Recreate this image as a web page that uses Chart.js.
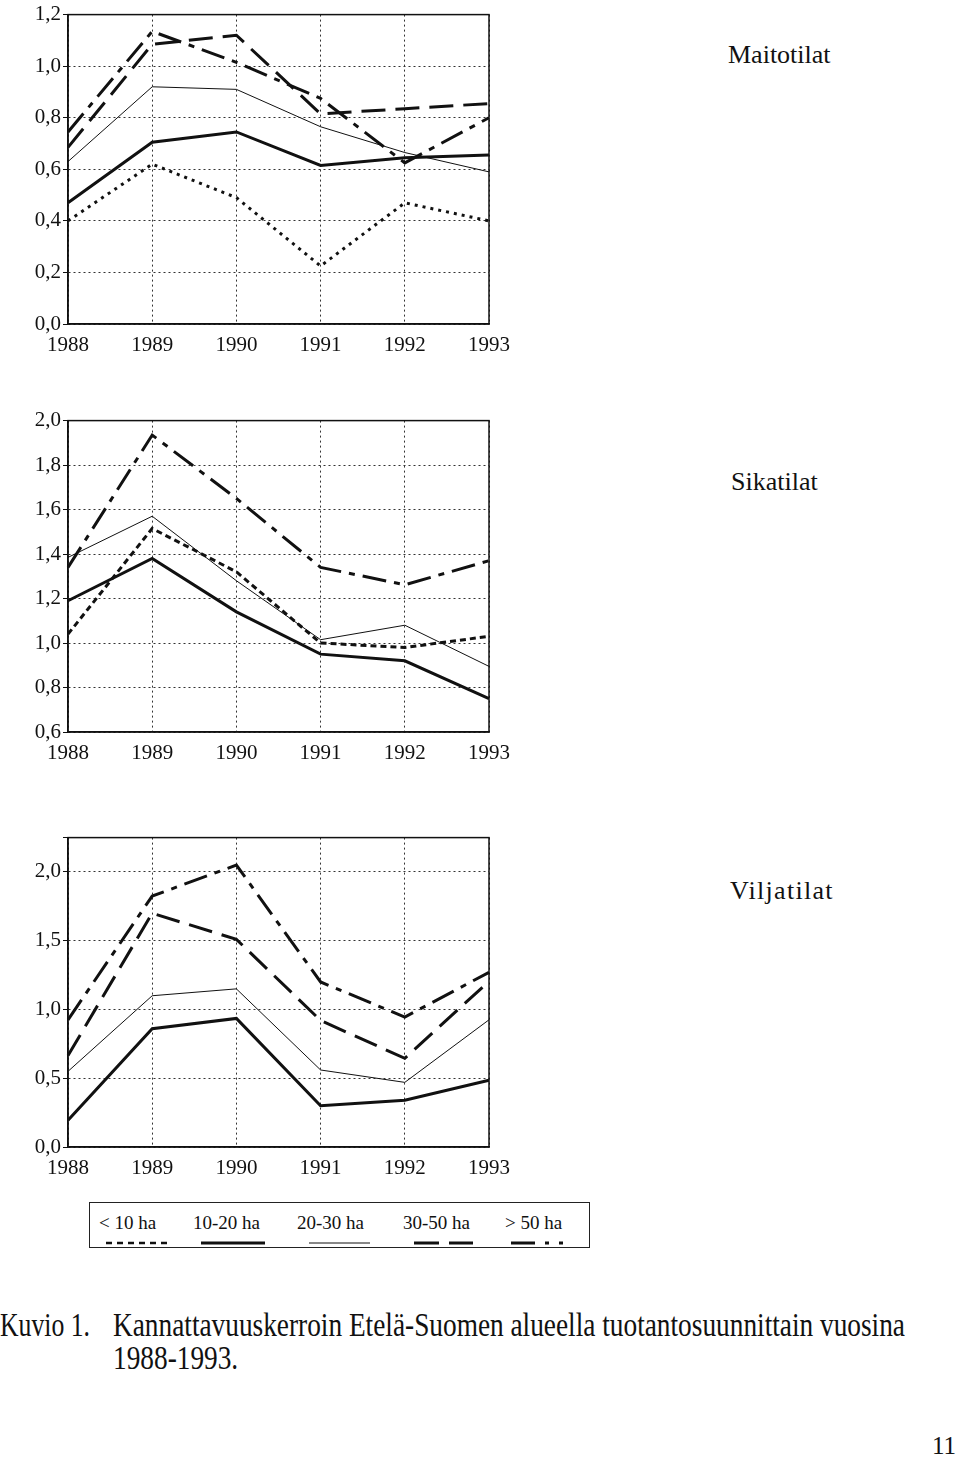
<!DOCTYPE html>
<html>
<head>
<meta charset="utf-8">
<script src="https://cdn.jsdelivr.net/npm/chart.js@4.4.1/dist/chart.umd.min.js"></script>
<style>
  body { margin: 0; background: #fff; width: 960px; height: 1460px; position: relative; overflow: hidden;
         font-family: "Liberation Serif", "Times New Roman", serif; color: #111; }
  canvas { position: absolute; left: 0; }
  .lbl { position: absolute; font-size: 26px; white-space: nowrap; }
  #legendBox { position: absolute; left: 89px; top: 1202px; width: 499px; height: 44px; border: 1.5px solid #222; }
  .legItem { position: absolute; top: 9px; font-size: 19px; white-space: nowrap; }
  .legSample { position: absolute; top: 37px; }
  .cap { position: absolute; font-size: 33px; line-height: 33px; white-space: nowrap; transform-origin: left top; }
</style>
</head>
<body>
<canvas id="maitoChart" width="540" height="370" style="top:0px"></canvas>
<canvas id="sikaChart" width="540" height="372" style="top:406px"></canvas>
<canvas id="viljaChart" width="540" height="370" style="top:823px"></canvas>

<div class="lbl" style="left:728px; top:40px;">Maitotilat</div>
<div class="lbl" style="left:731px; top:467px;">Sikatilat</div>
<div class="lbl" style="left:730px; top:876px; letter-spacing:1.3px;">Viljatilat</div>

<div id="legendBox"></div>

<div class="cap" id="capHead" style="left:0px; top:1309px;">Kuvio 1.</div>
<div class="cap" id="capText" style="left:113px; top:1309px;">Kannattavuuskerroin Etelä-Suomen alueella tuotantosuunnittain vuosina<br>1988-1993.</div>
<div class="lbl" style="left:932px; top:1432px; font-size:25px;">11</div>

<script>
const years = ['1988', '1989', '1990', '1991', '1992', '1993'];
const sizeClasses = ['< 10 ha', '10-20 ha', '20-30 ha', '30-50 ha', '> 50 ha'];

// Maitotilat
const maitoUnder10 = [0.40, 0.62, 0.49, 0.225, 0.47, 0.40];
const maito10to20 = [0.47, 0.705, 0.745, 0.615, 0.645, 0.655];
const maito20to30 = [0.63, 0.92, 0.91, 0.765, 0.665, 0.59];
const maito30to50 = [0.685, 1.085, 1.12, 0.815, 0.835, 0.855];
const maitoOver50 = [0.745, 1.135, 1.015, 0.875, 0.625, 0.80];
const maitoAxis = [0, 1.2, 0.2]; // min, max, step

// Sikatilat
const sikaUnder10 = [1.04, 1.515, 1.32, 1.00, 0.98, 1.03];
const sika10to20 = [1.19, 1.38, 1.14, 0.95, 0.92, 0.75];
const sika20to30 = [1.385, 1.57, 1.28, 1.015, 1.08, 0.895];
const sikaOver50 = [1.34, 1.935, 1.65, 1.34, 1.262, 1.37];
const sikaAxis = [0.6, 2.0, 0.2];

// Viljatilat
const vilja10to20 = [0.195, 0.86, 0.935, 0.30, 0.34, 0.485];
const vilja20to30 = [0.55, 1.10, 1.15, 0.56, 0.47, 0.925];
const vilja30to50 = [0.665, 1.70, 1.51, 0.92, 0.645, 1.205];
const viljaOver50 = [0.925, 1.825, 2.05, 1.20, 0.945, 1.27];
const viljaAxis = [0, 2.25, 0.5];
const viljaLastLabel = 2.0;

const ink = '#111';
const tickFont = { family: '"Liberation Serif", "Times New Roman", serif', size: 21 };

// line looks, one per size class
const looks = {
  under10dots: { borderWidth: 3, borderDash: [3, 5] },
  under10: { borderWidth: 3, borderDash: [6, 4] },
  s10to20: { borderWidth: 3, borderDash: [] },
  s20to30: { borderWidth: 1, borderDash: [] },
  s30to50: { borderWidth: 3, borderDash: [24, 10] },
  over50: { borderWidth: 3, borderDash: [24, 8, 6, 8] }
};

function ds(label, data, look) {
  return Object.assign({
    label, data,
    borderColor: ink,
    pointRadius: 0,
    tension: 0,
    fill: false
  }, look);
}

const plotFrame = {
  id: 'plotFrame',
  beforeDatasetsDraw(chart) {
    const { ctx, chartArea: a } = chart;
    ctx.save();
    ctx.strokeStyle = ink;
    ctx.lineWidth = 1.5;
    ctx.strokeRect(a.left, a.top, a.right - a.left, a.bottom - a.top);
    ctx.restore();
  }
};

function makeChart(id, datasets, axis, lastLabel) {
  const [yMin, yMax, yStep] = axis;
  return new Chart(document.getElementById(id), {
    type: 'line',
    data: { labels: years, datasets },
    options: {
      responsive: false,
      animation: false,
      layout: { padding: { top: 10, right: 51, left: 0, bottom: 0 } },
      plugins: { legend: { display: false }, tooltip: { enabled: false } },
      scales: {
        x: {
          grid: { color: '#333', lineWidth: 1, drawTicks: false },
          border: { dash: [2, 3], color: ink, width: 1.5 },
          ticks: { font: tickFont, color: ink, padding: 9, maxRotation: 0, autoSkip: false },
          afterFit: (s) => { s.height = 46; }
        },
        y: {
          min: yMin, max: yMax,
          grid: { color: '#333', lineWidth: 1, tickLength: 5, tickColor: ink },
          border: { dash: [2, 3], color: ink, width: 1.5 },
          ticks: {
            stepSize: yStep, font: tickFont, color: ink, padding: 2,
            callback: (v) => (lastLabel !== undefined && v > lastLabel + 1e-9) ? '' : v.toFixed(1).replace('.', ',')
          },
          afterFit: (s) => { s.width = 68; }
        }
      }
    },
    plugins: [plotFrame]
  });
}

makeChart('maitoChart', [
  ds(sizeClasses[0], maitoUnder10, looks.under10dots),
  ds(sizeClasses[1], maito10to20, looks.s10to20),
  ds(sizeClasses[2], maito20to30, looks.s20to30),
  ds(sizeClasses[3], maito30to50, looks.s30to50),
  ds(sizeClasses[4], maitoOver50, looks.over50)
], maitoAxis);

makeChart('sikaChart', [
  ds(sizeClasses[0], sikaUnder10, looks.under10),
  ds(sizeClasses[1], sika10to20, looks.s10to20),
  ds(sizeClasses[2], sika20to30, looks.s20to30),
  ds(sizeClasses[4], sikaOver50, looks.over50)
], sikaAxis);

makeChart('viljaChart', [
  ds(sizeClasses[1], vilja10to20, looks.s10to20),
  ds(sizeClasses[2], vilja20to30, looks.s20to30),
  ds(sizeClasses[3], vilja30to50, looks.s30to50),
  ds(sizeClasses[4], viljaOver50, looks.over50)
], viljaAxis, viljaLastLabel);

// legend box below the charts
const legendTextX = [9, 103, 207, 313, 415];
const legendSample = [
  { x: 16, w: 62, width: 2.5, dash: '6 5' },
  { x: 111, w: 64, width: 3, dash: '' },
  { x: 219, w: 61, width: 1, dash: '' },
  { x: 324, w: 59, width: 3, dash: '25 10' },
  { x: 421, w: 52, width: 3, dash: '24 10 4 10' }
];
const box = document.getElementById('legendBox');
sizeClasses.forEach((name, i) => {
  const t = document.createElement('div');
  t.className = 'legItem';
  t.style.left = legendTextX[i] + 'px';
  t.textContent = name;
  box.appendChild(t);
  const s = legendSample[i];
  const svgNS = 'http://www.w3.org/2000/svg';
  const svg = document.createElementNS(svgNS, 'svg');
  svg.setAttribute('class', 'legSample');
  svg.setAttribute('width', s.w);
  svg.setAttribute('height', 6);
  svg.style.left = s.x + 'px';
  const ln = document.createElementNS(svgNS, 'line');
  ln.setAttribute('x1', 0); ln.setAttribute('y1', 3);
  ln.setAttribute('x2', s.w); ln.setAttribute('y2', 3);
  ln.setAttribute('stroke', ink);
  ln.setAttribute('stroke-width', s.width);
  if (s.dash) ln.setAttribute('stroke-dasharray', s.dash);
  svg.appendChild(ln);
  box.appendChild(svg);
});

// squeeze the caption to the printed width (narrow typeface in the original)
function squeeze(id, target) {
  const el = document.getElementById(id);
  const w = el.getBoundingClientRect().width;
  el.style.transform = 'scaleX(' + Math.min(1, target / w) + ')';
}
squeeze('capHead', 90);
squeeze('capText', 792);
</script>
</body>
</html>
